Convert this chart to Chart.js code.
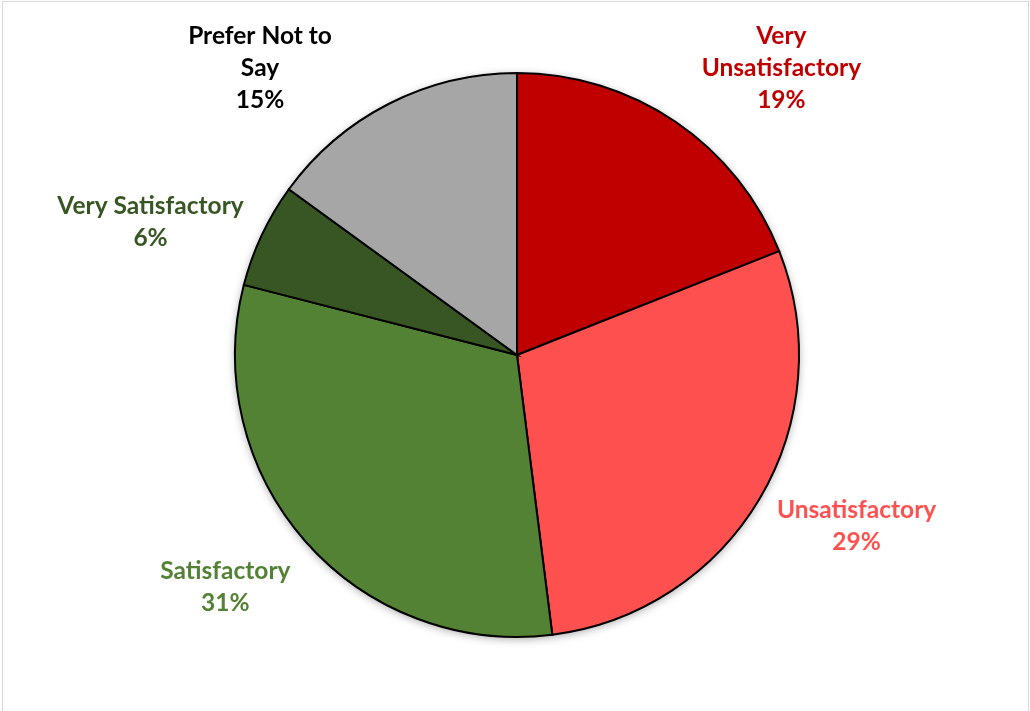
<!DOCTYPE html>
<html>
<head>
<meta charset="utf-8">
<script src="https://cdn.jsdelivr.net/npm/chart.js@4"></script>
<style>
  html, body { margin: 0; padding: 0; background: #fff; }
  #wrap { width: 1030px; height: 711px; position: relative; }
</style>
</head>
<body>
<div id="wrap"><canvas id="pie"></canvas></div>
<script>
'use strict';

let categories = [
  ['Very', 'Unsatisfactory'],
  ['Unsatisfactory'],
  ['Satisfactory'],
  ['Very Satisfactory'],
  ['Prefer Not to', 'Say']
];
let shares = [19, 29, 31, 6, 15];
let sliceColors = ['#C00000', '#FF5050', '#548235', '#375623', '#A6A6A6'];
let labelColors = ['#C00000', '#FF5050', '#548235', '#375623', '#000000'];

let labelFont = 'bold 24.5px Lato';
let lineHeight = 32;

// frame + soft shadow under the pie
let backdrop = {
  id: 'backdrop',
  beforeDraw(chart) {
    let ctx = chart.ctx;
    ctx.save();
    ctx.strokeStyle = '#D9D9D9';
    ctx.lineWidth = 1;
    ctx.strokeRect(2.5, 1.5, 1026, 740);
    ctx.restore();
  },
  beforeDatasetsDraw(chart) {
    let arc = chart.getDatasetMeta(0).data[0];
    if (!arc) return;
    let ctx = chart.ctx;
    ctx.save();
    ctx.shadowColor = 'rgba(0,0,0,0.35)';
    ctx.shadowBlur = 9;
    ctx.shadowOffsetY = 2;
    ctx.fillStyle = '#fff';
    ctx.beginPath();
    ctx.arc(arc.x, arc.y, arc.outerRadius, 0, Math.PI * 2);
    ctx.fill();
    ctx.restore();
  }
};

// Excel style "outside end" labels
let outsideLabels = {
  id: 'outsideLabels',
  afterDatasetsDraw(chart) {
    let ctx = chart.ctx;
    let arcs = chart.getDatasetMeta(0).data;
    ctx.save();
    ctx.font = labelFont;
    ctx.textAlign = 'center';
    ctx.textBaseline = 'middle';
    for (let i = 0; i < arcs.length; i++) {
      let a = arcs[i];
      let lines = categories[i].concat([shares[i] + '%']);
      let w = 0;
      for (let j = 0; j < lines.length; j++) {
        w = Math.max(w, ctx.measureText(lines[j]).width);
      }
      let h = lines.length * lineHeight;
      let mid = (a.startAngle + a.endAngle) / 2;
      let ux = Math.cos(mid);
      let uy = Math.sin(mid);
      let r = a.outerRadius + 20;
      let px = a.x + r * ux;
      let py = a.y + r * uy;
      let fy = Math.min(1, Math.max(0, (Math.abs(uy) - 0.4) / 0.2));
      let cx = px + Math.sign(ux) * w / 2;
      let cy = py + Math.sign(uy) * h / 2 * fy;
      // keep inside the chart area, then slide sideways off the pie
      if (cy - h / 2 < 20) {
        cy = 20 + h / 2;
        for (let k = 0; k < 400; k++) {
          let nx = Math.max(cx - w / 2, Math.min(a.x, cx + w / 2));
          let ny = Math.max(cy - h / 2, Math.min(a.y, cy + h / 2));
          if (Math.hypot(nx - a.x, ny - a.y) >= r) break;
          cx += Math.sign(ux);
        }
      }
      ctx.fillStyle = labelColors[i];
      let top = cy - h / 2 + lineHeight / 2;
      for (let j = 0; j < lines.length; j++) {
        ctx.fillText(lines[j], cx, top + j * lineHeight);
      }
    }
    ctx.restore();
  }
};

let ctx = document.getElementById('pie').getContext('2d');
let pie = new Chart(ctx, {
  type: 'pie',
  data: {
    labels: categories,
    datasets: [{
      data: shares,
      backgroundColor: sliceColors,
      borderColor: '#000000',
      borderWidth: 2,
      borderJoinStyle: 'miter'
    }]
  },
  options: {
    responsive: true,
    maintainAspectRatio: false,
    animation: false,
    layout: { padding: { top: 72, bottom: 73, left: 4, right: 0 } },
    plugins: {
      legend: { display: false },
      tooltip: { enabled: false }
    }
  },
  plugins: [backdrop, outsideLabels]
});
</script>
</body>
</html>
